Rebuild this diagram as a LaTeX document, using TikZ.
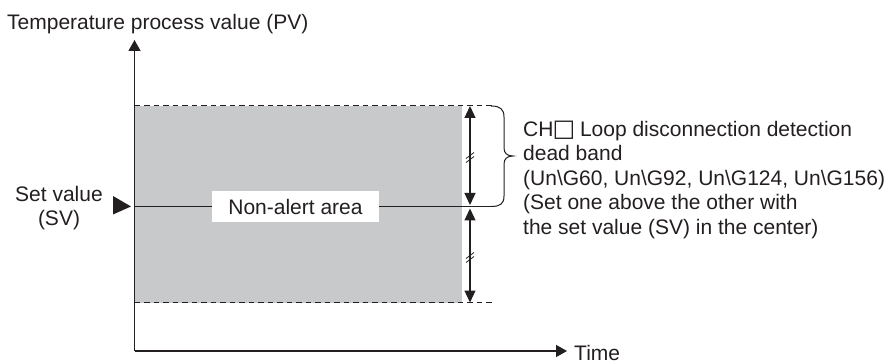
\documentclass[tikz,border=0pt]{standalone}
\usepackage{fontspec}
\setmainfont{Liberation Sans}
\newfontfamily\symfont{DejaVu Sans}
\usetikzlibrary{arrows.meta}
\definecolor{ink}{RGB}{35,31,32}
\definecolor{band}{RGB}{200,201,203}
\begin{document}
\begin{tikzpicture}[x=1pt,y=-1pt,
  every node/.style={inner sep=0pt, text=ink, font=\fontsize{21}{24.5}\selectfont},
  axis/.style={draw=ink, line width=1.3pt, -{Triangle[length=11pt,width=12pt]}},
  dim/.style={draw=ink, line width=1.3pt, {Triangle[length=12pt,width=11pt]}-{Triangle[length=12pt,width=11pt]}},
  limit/.style={draw=ink, line width=1pt, dash pattern=on 5.5pt off 4pt},
  svline/.style={draw=ink, line width=1.3pt},
  tickmark/.style={draw=ink, line width=0.8pt},
  bracestyle/.style={draw=ink, line width=1pt},
  labelbox/.style={fill=white, minimum width=167pt, minimum height=31pt}]
\useasboundingbox (0,0) rectangle (891,363);
% band
\fill[band] (135,106) rectangle (462,302.5);
% coordinates
\coordinate (O) at (134.5,351);
\coordinate (Ytop) at (134.5,40);
\coordinate (Xend) at (567,351);
\coordinate (UL) at (134.5,106);
\coordinate (UR) at (493,106);
\coordinate (LL) at (134.5,302.5);
\coordinate (LR) at (493,302.5);
\coordinate (SL) at (134.5,206.5);
\coordinate (SR) at (491,206.5);
\coordinate (A1) at (470,106);
\coordinate (A2) at (470,205);
\coordinate (A3) at (470,208.5);
\coordinate (A4) at (470,302.5);
% limit lines
\draw[limit] (UL) -- (UR);
\draw[limit] (LL) -- (LR);
% set value line
\draw[svline] (SL) -- (SR);
% axes
\draw[axis] (O) -- (Ytop);
\draw[axis] (O) -- (Xend);
% dimension arrows
\draw[dim] (A1) -- (A2);
\draw[dim] (A3) -- (A4);
% tick marks (c = 157.5 and 257.5)
\draw[tickmark] (466,158.5) -- (474,152.5) (466,162.5) -- (474,156.5);
\draw[tickmark] (466,258.5) -- (474,252.5) (466,262.5) -- (474,256.5);
% brace
\draw[bracestyle] (491,106) .. controls (500,106) and (504,109) .. (504,117) -- (504,148)
  .. controls (504,153) and (507,156) .. (513,156)
  .. controls (507,156) and (504,159) .. (504,164) -- (504,196)
  .. controls (504,204) and (500,206.5) .. (491,206.5);
% marker
\fill[ink] (113,196) -- (131,206.5) -- (113,214.5) -- cycle;
% labels
\node[labelbox] (nonalert) at (295.5,206.5) {Non-alert area};
\node[anchor=base west] (title) at (7,30) {Temperature process value (PV)};
\node[anchor=base west] (time) at (574,360) {Time};
\node[anchor=base, align=center] (sv) at (59,226) {Set value\\(SV)};
\node[anchor=base west, align=left] (desc) at (523,234.5) {CH\kern-1pt{\symfont\fontsize{24}{24.5}\selectfont □}\kern-1pt\ Loop disconnection detection\\dead band\\(Un\textbackslash G60, Un\textbackslash G92, Un\textbackslash G124, Un\textbackslash G156)\\(Set one above the other with\\the set value (SV) in the center)};
\end{tikzpicture}
\end{document}
